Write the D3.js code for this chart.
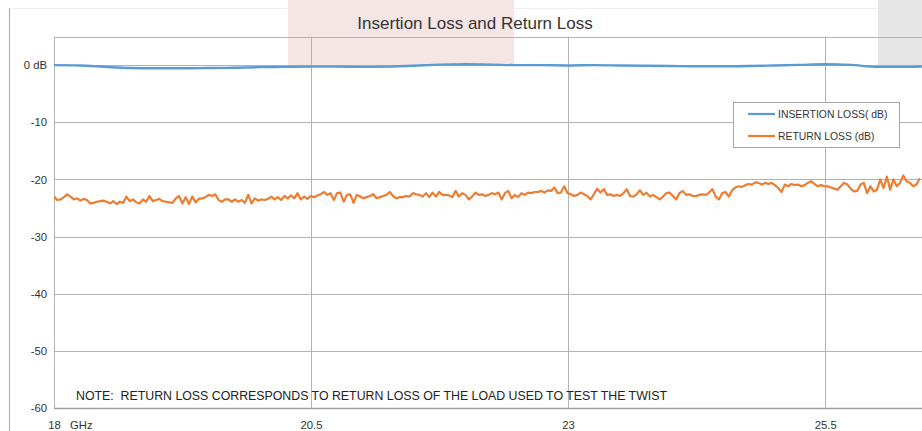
<!DOCTYPE html>
<html>
<head>
<meta charset="utf-8">
<script src="https://cdn.jsdelivr.net/npm/d3@7/dist/d3.min.js"></script>
<style>
  html, body { margin: 0; padding: 0; background: #fff; }
  svg { display: block; }
  text { font-family: "Liberation Sans", Arial, sans-serif; }
</style>
</head>
<body>
<svg id="chart" width="922" height="431"></svg>
<script>
// ---------------- DATA ----------------
const title = "Insertion Loss and Return Loss";
const note = "NOTE:  RETURN LOSS CORRESPONDS TO RETURN LOSS OF THE LOAD USED TO TEST THE TWIST";
const seriesNames = ["INSERTION LOSS( dB)", "RETURN LOSS (dB)"];
const xTicks = [18, 20.5, 23, 25.5];
const xTickLabels = ["18", "20.5", "23", "25.5"];
const xUnit = "GHz";
const yTicks = [0, -10, -20, -30, -40, -50, -60];
const yTickLabels = ["0 dB", "-10", "-20", "-30", "-40", "-50", "-60"];

// Insertion loss (dB) vs frequency (GHz)
const ilFreq = [18, 18.25, 18.5, 18.75, 19, 19.25, 19.5, 19.75, 20, 20.25, 20.5, 20.75, 21, 21.25,
  21.5, 21.75, 22, 22.25, 22.5, 22.75, 23, 23.25, 23.5, 23.75, 24, 24.25, 24.5, 24.75, 25, 25.25,
  25.5, 25.75, 26, 26.25, 26.5];
const ilValues = [0.0, -0.05, -0.3, -0.5, -0.55, -0.55, -0.5, -0.45, -0.35, -0.3, -0.25, -0.25, -0.3, -0.25,
  -0.1, 0.1, 0.15, 0.1, 0.0, 0.0, -0.05, 0.0, -0.05, -0.1, -0.15, -0.2, -0.2, -0.15, -0.05, 0.05,
  0.15, 0.05, -0.3, -0.3, -0.2];

// Return loss (dB), sweep from rlStart to rlStop GHz, equally spaced points
const rlStart = 18;
const rlStop = 26.42;
const rlValues = [
  -23.0,-23.6,-23.5,-23.1,-22.6,-23.0,-23.5,-23.3,-23.7,-23.4,-23.6,-24.2,-24.1,-23.9,-23.8,-23.7,-23.9,-24.2,-23.8,-24.3,
  -23.9,-24.1,-23.0,-23.8,-23.5,-24.0,-24.2,-23.5,-23.9,-22.9,-23.8,-23.6,-23.4,-23.8,-23.9,-24.0,-24.1,-23.3,-22.9,-24.2,
  -23.1,-24.3,-23.0,-24.0,-23.4,-23.3,-23.1,-22.7,-22.9,-22.6,-23.6,-23.9,-23.5,
  -23.5,-23.9,-23.5,-23.9,-23.6,-24.1,-22.7,-24.2,-23.3,-23.7,-23.5,-23.6,-23.4,-23.0,-23.5,-23.1,-23.6,-22.9,-23.3,-22.8,
  -23.3,-22.4,-23.5,-23.0,-23.4,-22.9,-23.1,-22.8,-22.6,-22.2,-22.7,-22.4,-23.6,-22.4,-22.3,-23.9,-22.7,-22.6,-24.1,-22.7,
  -23.0,-23.3,-23.1,-22.9,-22.6,-23.3,-23.1,-22.9,-22.7,-22.2,-22.9,-23.3,-23.1,
  -23.1,-22.9,-23.0,-22.4,-22.6,-22.7,-23.0,-22.4,-23.1,-22.3,-23.0,-22.2,-22.7,-22.7,-22.8,-23.1,-22.0,-23.0,-22.4,-22.7,
  -23.5,-23.0,-22.3,-22.7,-22.6,-22.9,-22.7,-22.4,-22.6,-22.3,-23.5,-22.4,-22.0,-23.3,-22.7,-23.1,-22.4,-22.7,-22.3,-22.4,
  -22.2,-22.2,-22.0,-22.3,-21.9,-22.0,-21.4,-22.4,-22.3,-21.2,-22.4,-22.6,-22.9,
  -22.7,-22.3,-22.6,-22.9,-23.5,-22.6,-21.6,-22.3,-21.7,-22.7,-22.6,-22.9,-22.7,-22.9,-22.4,-21.7,-22.9,-23.0,-22.6,-21.9,
  -22.7,-22.3,-23.0,-22.7,-23.1,-23.5,-23.0,-22.4,-22.3,-22.9,-23.5,-22.4,-22.0,-22.7,-22.6,-22.9,-22.9,-22.7,-22.6,-22.7,
  -22.3,-21.7,-23.0,-23.5,-22.4,-22.2,-23.0,-21.9,-21.4,-21.2,-21.3,-21.0,-20.8,
  -20.9,-20.5,-20.6,-20.9,-20.6,-20.8,-20.6,-21.0,-21.5,-22.2,-20.9,-21.2,-20.8,-21.0,-20.9,-21.2,-21.0,-20.6,-20.3,-20.8,
  -21.2,-21.0,-21.2,-21.2,-21.4,-21.6,-21.8,-21.2,-20.6,-20.9,-21.6,-22.1,-22.0,-20.9,-20.6,-22.4,-21.2,-22.1,-21.8,-20.0,
  -21.5,-19.5,-21.8,-20.0,-21.2,-20.6,-19.3,-20.3,-20.6,-21.2,-20.9,-19.8
];

// ---------------- LAYOUT ----------------
const W = 922, H = 431;
const plot = { left: 54, top: 36.6, right: 928, bottom: 408 };
const colors = { il: "#5b9bd5", rl: "#ed7d31", grid: "#b3b3b3", text: "#333" };

const svg = d3.select("#chart");

// background highlight blocks (from the source document)
svg.append("rect").attr("x", 288).attr("y", 0).attr("width", 226).attr("height", 66).attr("fill", "#f5e5e5");
svg.append("rect").attr("x", 878).attr("y", 0).attr("width", 44).attr("height", 65).attr("fill", "#e6e6e6");

// outer frame
svg.append("line").attr("x1", 9.5).attr("x2", 9.5).attr("y1", 8).attr("y2", H).attr("stroke", "#a6a6a6").attr("stroke-width", 1);
svg.append("line").attr("x1", 9.5).attr("x2", 288).attr("y1", 8.5).attr("y2", 8.5).attr("stroke", "#f0f0f0").attr("stroke-width", 1);
svg.append("line").attr("x1", 514).attr("x2", 878).attr("y1", 8.5).attr("y2", 8.5).attr("stroke", "#f0f0f0").attr("stroke-width", 1);

const x = d3.scaleLinear().domain([18, 26.5]).range([plot.left, plot.right]);
const y = d3.scaleLinear().domain([-60, 5]).range([plot.bottom, plot.top]);

// grid
const g = svg.append("g");
g.selectAll("line.hgrid").data(yTicks).join("line")
  .attr("x1", plot.left).attr("x2", W)
  .attr("y1", d => Math.round(y(d)) + 0.5).attr("y2", d => Math.round(y(d)) + 0.5)
  .attr("stroke", colors.grid).attr("stroke-width", 1);
g.selectAll("line.vgrid").data(xTicks).join("line")
  .attr("x1", d => Math.round(x(d)) + 0.5).attr("x2", d => Math.round(x(d)) + 0.5)
  .attr("y1", plot.top).attr("y2", plot.bottom)
  .attr("stroke", colors.grid).attr("stroke-width", 1);
g.append("line").attr("x1", plot.left).attr("x2", W)
  .attr("y1", Math.round(plot.top) + 0.5).attr("y2", Math.round(plot.top) + 0.5)
  .attr("stroke", colors.grid).attr("stroke-width", 1);
g.append("line").attr("x1", plot.left).attr("x2", W)
  .attr("y1", Math.round(y(-60)) + 0.5).attr("y2", Math.round(y(-60)) + 0.5)
  .attr("stroke", "#a0a0a0").attr("stroke-width", 1.5);

// axes labels
const yAxis = d3.axisLeft(y).tickValues(yTicks).tickFormat((d, i) => yTickLabels[i]).tickSize(0).tickPadding(7);
const ya = svg.append("g").attr("transform", `translate(${plot.left},0)`).call(yAxis);
ya.select(".domain").remove();
ya.selectAll("text").attr("font-size", 11.3).attr("fill", colors.text).attr("font-family", "Liberation Sans, Arial, sans-serif");

const xAxis = d3.axisBottom(x).tickValues(xTicks).tickFormat((d, i) => xTickLabels[i]).tickSize(0).tickPadding(13);
const xa = svg.append("g").attr("transform", `translate(0,${plot.bottom})`).call(xAxis);
xa.select(".domain").remove();
xa.selectAll("text").attr("font-size", 11.3).attr("fill", colors.text).attr("font-family", "Liberation Sans, Arial, sans-serif");

svg.append("text").attr("x", 70).attr("y", 429).attr("font-size", 11.3).attr("fill", colors.text).text(xUnit);

// lines
svg.append("clipPath").attr("id", "clip").append("rect")
  .attr("x", plot.left).attr("y", plot.top).attr("width", W - plot.left).attr("height", plot.bottom - plot.top);

const ilData = ilFreq.map((f, i) => [f, ilValues[i]]);
const rlStep = (rlStop - rlStart) / (rlValues.length - 1);
const rlData = rlValues.map((v, i) => [rlStart + i * rlStep, v]);

svg.append("path").datum(rlData).attr("clip-path", "url(#clip)")
  .attr("d", d3.line().x(d => x(d[0])).y(d => y(d[1])))
  .attr("fill", "none").attr("stroke", colors.rl).attr("stroke-width", 2.2).attr("stroke-linejoin", "round");
svg.append("path").datum(ilData).attr("clip-path", "url(#clip)")
  .attr("d", d3.line().x(d => x(d[0])).y(d => y(d[1])).curve(d3.curveMonotoneX))
  .attr("fill", "none").attr("stroke", colors.il).attr("stroke-width", 2.4);

// title
svg.append("text").attr("x", 475).attr("y", 29).attr("text-anchor", "middle")
  .attr("font-size", 17).attr("fill", colors.text).text(title);

// note
svg.append("text").attr("x", 76).attr("y", 399.5)
  .attr("font-size", 12).attr("fill", "#222")
  .attr("xml:space", "preserve").style("white-space", "pre")
  .attr("textLength", 591).attr("lengthAdjust", "spacingAndGlyphs")
  .text(note);

// legend
const lg = svg.append("g");
lg.append("rect").attr("x", 733.5).attr("y", 102.5).attr("width", 166).attr("height", 45)
  .attr("fill", "#fff").attr("stroke", "#a6a6a6").attr("stroke-width", 1);
const legColors = [colors.il, colors.rl];
seriesNames.forEach((name, i) => {
  const yy = 114 + i * 22;
  lg.append("line").attr("x1", 748).attr("x2", 775).attr("y1", yy).attr("y2", yy)
    .attr("stroke", legColors[i]).attr("stroke-width", 2.2);
  lg.append("text").attr("x", 778).attr("y", yy + 3.8).attr("font-size", 10.4).attr("fill", colors.text).text(name);
});
</script>
</body>
</html>
